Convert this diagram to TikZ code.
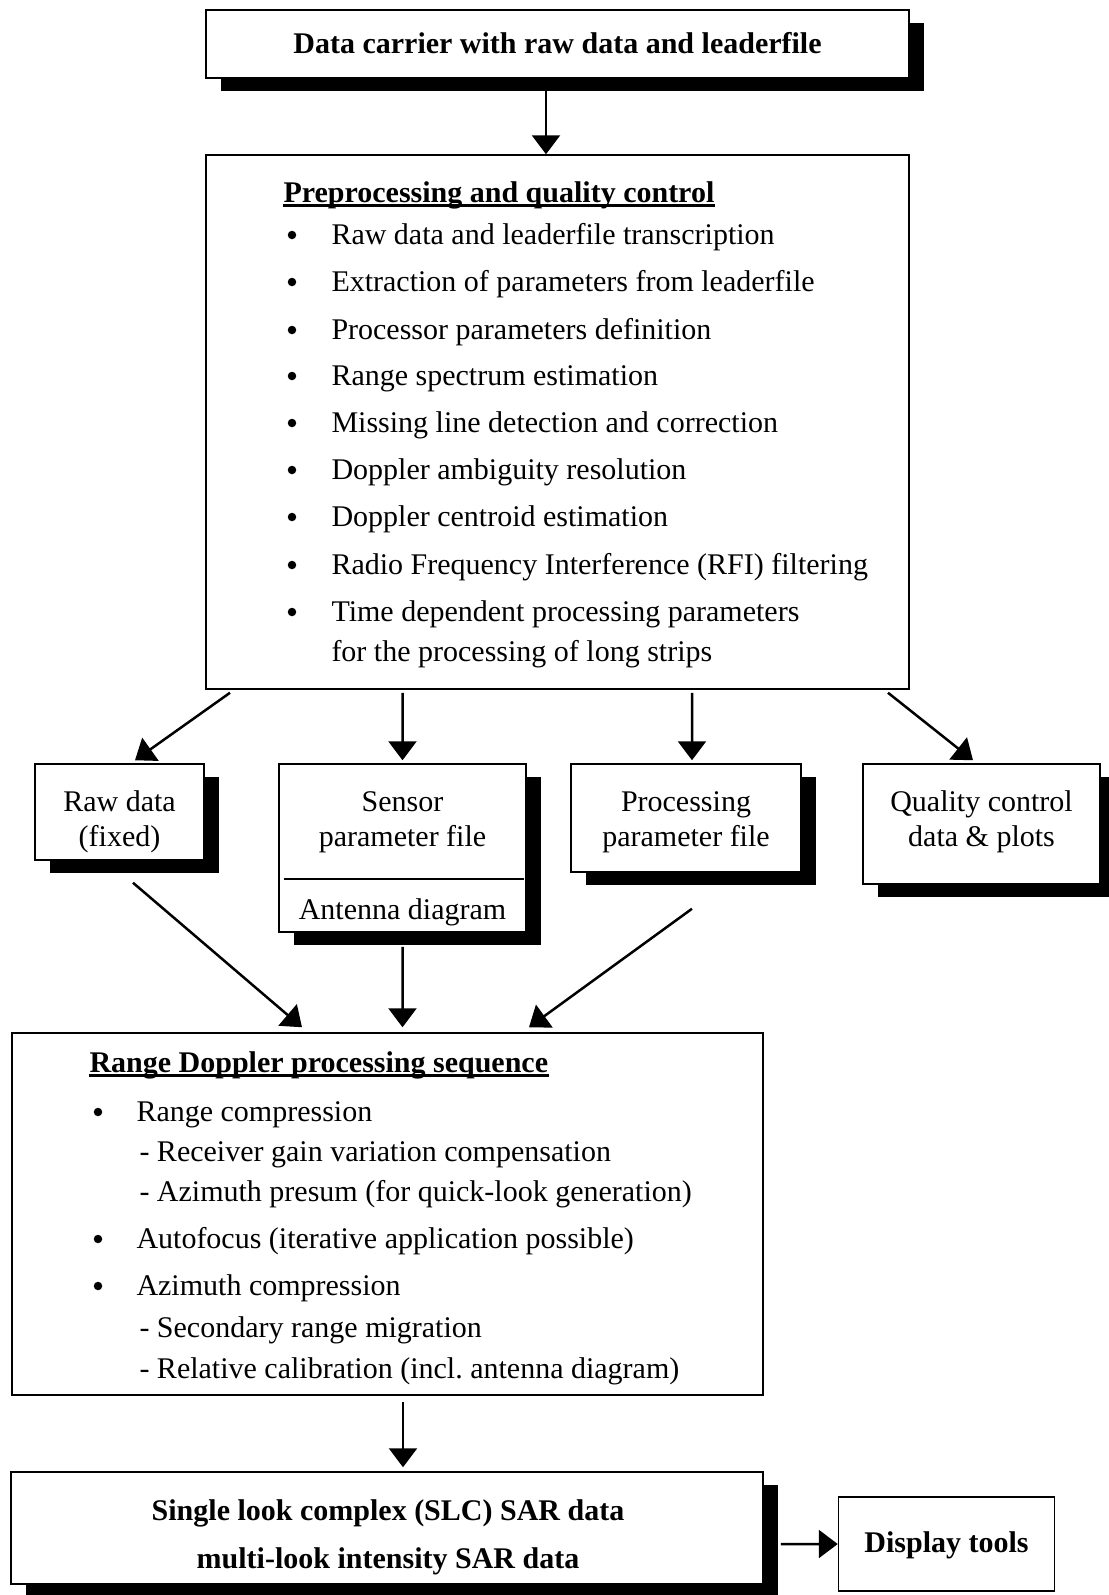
\documentclass[tikz,border=0pt]{standalone}
\usepackage{fontspec}
\setmainfont{Liberation Serif}
\usetikzlibrary{arrows.meta,shadows}

\tikzset{
  box/.style={draw, line width=0.6pt, fill=white, inner sep=0pt},
  shadowbox/.style={box, drop shadow={shadow xshift=6pt, shadow yshift=-5.2pt, fill=black, opacity=1}},
  txt/.style={inner sep=0pt, font=\fontsize{12}{14}\selectfont},
  dot/.style={circle, fill, inner sep=0pt, minimum size=3.4pt},
  arr/.style={-{Triangle[width=11.2pt,length=7.6pt]}, line width=1pt},
  uline/.style={line width=0.9pt},
  divider/.style={line width=1pt}
}

\begin{document}
\begin{tikzpicture}[x=0.4pt,y=-0.4pt]
    \useasboundingbox (0,0) rectangle (1108,1595);

    % boxes
    \node[shadowbox, minimum width=281.2pt, minimum height=27.2pt] (carrier) at (557.5,44) {};
    \node[box, minimum width=281.2pt, minimum height=213.6pt] (pre) at (557.5,422) {};
    \node[shadowbox, minimum width=67.6pt, minimum height=38.4pt] (raw) at (119.5,812) {};
    \node[shadowbox, minimum width=98.8pt, minimum height=67.2pt] (sensor) at (402.5,848) {};
    \node[shadowbox, minimum width=92pt, minimum height=43.2pt] (proc) at (686,818) {};
    \node[shadowbox, minimum width=94.8pt, minimum height=48pt] (quality) at (981.5,824) {};
    \node[box, minimum width=300.4pt, minimum height=144.8pt] (rd) at (387.5,1214) {};
    \node[shadowbox, minimum width=300.8pt, minimum height=44.8pt] (slc) at (387,1528) {};
    \node[box, minimum width=86.4pt, minimum height=37.6pt] (display) at (946.5,1544) {};
    \draw[divider] ([xshift=2.4pt,yshift=-12.4pt]sensor.west) -- ([xshift=-1.2pt,yshift=-12.4pt]sensor.east);

    % top box
    \node[txt, anchor=base] (carrier-t) at (557.5,53) {\bfseries Data carrier with raw data and leaderfile};

    % preprocessing
    \node[txt, anchor=base west] (pre-t) at (283,202) {\bfseries Preprocessing and quality control};
    \draw[uline] ([yshift=-1.4pt]pre-t.base west) -- ([yshift=-1.4pt]pre-t.base east);
    \foreach \i/\y/\lbl in {1/244/Raw data and leaderfile transcription,
        2/291/Extraction of parameters from leaderfile,
        3/339/Processor parameters definition,
        4/385/Range spectrum estimation,
        5/432/Missing line detection and correction,
        6/479/Doppler ambiguity resolution,
        7/526/Doppler centroid estimation,
        8/574/Radio Frequency Interference (RFI) filtering,
        9/621/Time dependent processing parameters}{
      \node[dot] (pre-b\i) at (292,\y-9) {};
      \node[txt, anchor=base west] (pre-i\i) at (331,\y) {\lbl};
    }
    \node[txt, anchor=base west] (pre-i10) at (331,661) {for the processing of long strips};

    % middle row
    \node[txt, anchor=base] (raw-a) at (119.5,811) {Raw data};
    \node[txt, anchor=base] (raw-b) at (119.5,846) {(fixed)};
    \node[txt, anchor=base] (sensor-a) at (402.5,811) {Sensor};
    \node[txt, anchor=base] (sensor-b) at (402.5,846) {parameter file};
    \node[txt, anchor=base] (sensor-c) at (402.5,919) {Antenna diagram};
    \node[txt, anchor=base] (proc-a) at (686,811) {Processing};
    \node[txt, anchor=base] (proc-b) at (686,846) {parameter file};
    \node[txt, anchor=base] (quality-a) at (981.5,811) {Quality control};
    \node[txt, anchor=base] (quality-b) at (981.5,846) {data \& plots};

    % range doppler
    \node[txt, anchor=base west] (rd-t) at (89,1072) {\bfseries Range Doppler processing sequence};
    \draw[uline] ([yshift=-1.4pt]rd-t.base west) -- ([yshift=-1.4pt]rd-t.base east);
    \foreach \i/\y/\lbl in {1/1121/Range compression, 2/1248/Autofocus (iterative application possible), 3/1295/Azimuth compression}{
      \node[dot] (rd-b\i) at (98,\y-9) {};
      \node[txt, anchor=base west] (rd-i\i) at (136,\y) {\lbl};
    }
    \node[txt, anchor=base west] (rd-s1) at (139,1161) {- Receiver gain variation compensation};
    \node[txt, anchor=base west] (rd-s2) at (139,1201) {- Azimuth presum (for quick-look generation)};
    \node[txt, anchor=base west] (rd-s3) at (139,1337) {- Secondary range migration};
    \node[txt, anchor=base west] (rd-s4) at (139,1378) {- Relative calibration (incl.\ antenna diagram)};

    % output
    \node[txt, anchor=base] (slc-a) at (388,1520) {\bfseries Single look complex (SLC) SAR data};
    \node[txt, anchor=base] (slc-b) at (388,1568) {\bfseries multi-look intensity SAR data};
    \node[txt, anchor=base] (display-t) at (946.5,1552) {\bfseries Display tools};

    % arrows
    \draw[arr] ([xshift=-4.6pt]carrier.south) -- ([xshift=-4.6pt]pre.north);
    \draw[arr] ([xshift=-131pt,yshift=-1.2pt]pre.south) -- ([xshift=6.2pt,yshift=1.2pt]raw.north);
    \draw[arr] ([xshift=-62pt,yshift=-1.2pt]pre.south) -- ([yshift=1.2pt]sensor.north);
    \draw[arr] ([xshift=53.8pt,yshift=-1.2pt]pre.south) -- ([xshift=2.4pt,yshift=1.2pt]proc.north);
    \draw[arr] ([xshift=132.2pt,yshift=-1.2pt]pre.south) -- ([xshift=-3.4pt,yshift=1.2pt]quality.north);
    \draw[arr] ([xshift=5.4pt,yshift=-8.8pt]raw.south) -- ([xshift=-34.2pt,yshift=2pt]rd.north);
    \draw[arr] ([yshift=-5.6pt]sensor.south) -- ([xshift=6pt,yshift=2pt]rd.north);
    \draw[arr] ([xshift=2.4pt,yshift=-14.4pt]proc.south) -- ([xshift=56.6pt,yshift=2pt]rd.north);
    \draw[arr] ([xshift=6.2pt,yshift=-2.4pt]rd.south) -- ([xshift=6.4pt,yshift=1.6pt]slc.north);
    \draw[arr] ([xshift=6.8pt,yshift=-6.4pt]slc.east) -- (display.west);
\end{tikzpicture}
\end{document}
